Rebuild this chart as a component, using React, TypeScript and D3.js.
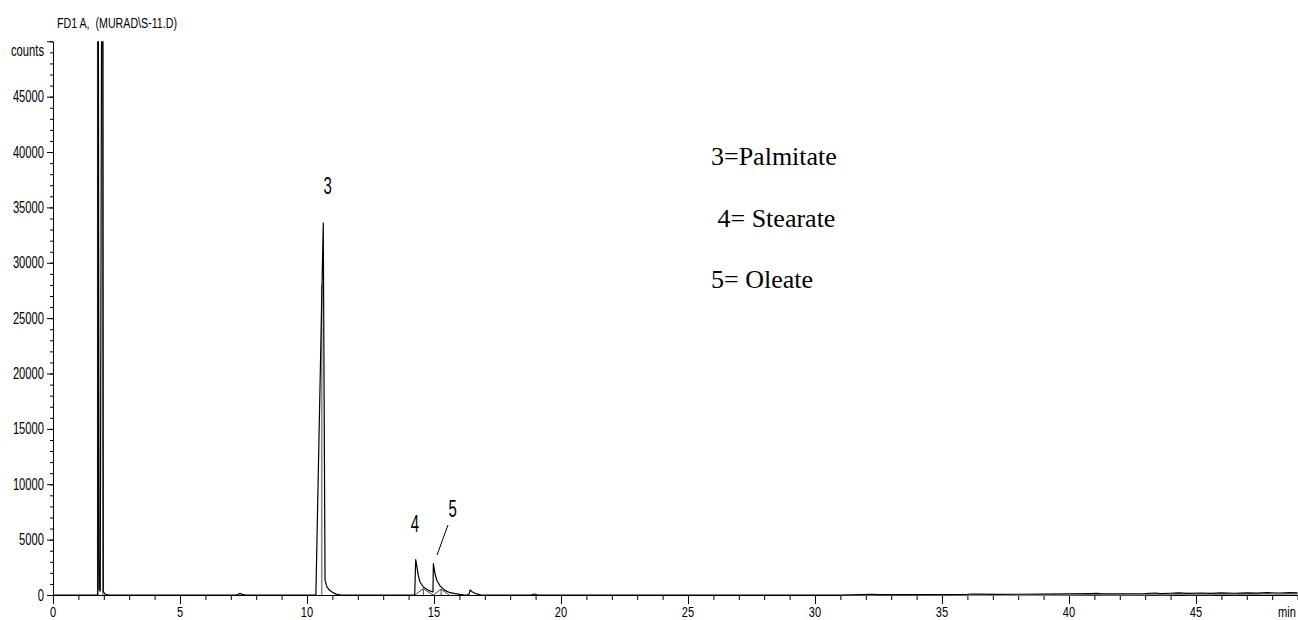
import { useEffect, useRef } from "react";
import * as d3 from "d3";

type Pt = [number, number];

const W = 1298;
const H = 620;

// axis labels
const xTickLabels = [0, 5, 10, 15, 20, 25, 30, 35, 40, 45];
const yTickLabels = [0, 5000, 10000, 15000, 20000, 25000, 30000, 35000, 40000, 45000];

// FID trace, [retention time (min), counts]
const solventPeak: Pt[] = [
  [0, 0], [1.76, 0], [1.77, 90000], [1.81, 3600], [1.82, 500], [1.86, 350],
  [1.95, 90000], [1.98, 300], [2.05, 80], [2.2, 0],
];
const earlyBlip: Pt[] = [[7.2, 0], [7.3, 60], [7.36, 150], [7.45, 60], [7.6, 0]];
const palmitatePeak: Pt[] = [
  [10.3, 0], [10.35, 40], [10.64, 33600], [10.71, 1350], [10.78, 750],
  [10.88, 450], [10.97, 300], [11.14, 80], [11.35, 0],
];
const stearatePeak: Pt[] = [
  [14.2, 0], [14.24, 40], [14.28, 3200], [14.32, 2680], [14.38, 1780],
  [14.45, 1170], [14.58, 720], [14.78, 420], [14.96, 270],
];
const oleatePeak: Pt[] = [
  [14.975, 2830], [15.04, 1920], [15.11, 1330], [15.24, 810], [15.43, 420],
  [15.63, 210], [15.83, 120], [16.02, 60], [16.2, 0],
];
const minorPeaks: Pt[] = [
  [16.3, 0], [16.38, 80], [16.42, 450], [16.5, 300], [16.65, 120], [16.85, 0],
  [18.8, 0], [18.95, 90], [19.1, 0],
];
const lateBaseline: Pt[] = [
  [31, 0], [31.8, 30], [32.2, 50], [32.5, 30], [34, 30], [36, 50], [36.2, 90],
  [36.6, 80], [37, 60], [39, 80], [40, 100], [40.8, 130], [41.1, 150],
  [41.3, 110], [43, 130], [43.4, 180], [43.6, 130], [44, 160], [44.3, 190],
  [44.7, 150], [45.2, 180], [45.6, 150], [46, 190], [46.5, 160], [47, 200],
  [47.4, 170], [47.8, 210], [48.3, 180], [48.7, 210], [49, 200],
];

// integration marks
const dropMarkers: Pt[] = [[1.76, 50000], [1.96, 50000], [10.58, 28000]];
const skimTents: Pt[][] = [
  [[14.24, 0], [14.58, 560], [14.97, 0]],
  [[14.97, 0], [15.28, 520], [15.6, 0]],
];
const skimTicks: Pt[] = [[14.58, 560], [15.28, 520]];

// annotations (data coordinates)
const peakLabels = [
  { label: "3", t: 10.81, c: 36200 },
  { label: "4", t: 14.25, c: 5690 },
  { label: "5", t: 15.73, c: 7040 },
];
const leader: Pt[] = [[15.55, 6320], [15.12, 3610]];
const legendItems = ["3=Palmitate", " 4= Stearate", "5= Oleate"];

const SANS = "'Liberation Sans', Arial, sans-serif";
const SERIF = "'Liberation Serif', 'Times New Roman', serif";

export default function App() {
  const svgRef = useRef<SVGSVGElement>(null);

  useEffect(() => {
    if (!svgRef.current) return;
    const svg = d3.select(svgRef.current);
    svg.selectAll("*").remove();

    const x = d3.scaleLinear().domain([0, 49]).range([53, 53 + 49 * 25.4]);
    const y = d3.scaleLinear().domain([0, 50000]).range([595, 41.3]);

    svg.append("rect").attr("width", W).attr("height", H).attr("fill", "#fff");

    svg
      .append("defs")
      .append("clipPath")
      .attr("id", "plot-clip")
      .append("rect")
      .attr("x", 53)
      .attr("y", y(50000))
      .attr("width", W - 53)
      .attr("height", y(0) - y(50000) + 1);

    // Header
    svg
      .append("text")
      .attr("x", 57)
      .attr("y", 28)
      .attr("textLength", 120)
      .attr("lengthAdjust", "spacingAndGlyphs")
      .style("font-family", SANS)
      .style("font-size", "14px")
      .style("white-space", "pre")
      .text("FD1 A,  (MURAD\\S-11.D)");

    // Axes
    const xAxisG = svg.append("g").attr("transform", `translate(0,${y(0)})`);
    xAxisG
      .append("g")
      .call(d3.axisBottom(x).tickValues(d3.range(0, 50)).tickSize(5).tickSizeOuter(0).tickFormat(() => ""));
    xAxisG
      .append("g")
      .call(d3.axisBottom(x).tickValues(xTickLabels).tickSize(9).tickSizeOuter(0).tickFormat(() => ""));
    xAxisG.selectAll("path,line").attr("stroke", "#000");

    const yAxisG = svg.append("g").attr("transform", `translate(53,0)`);
    yAxisG
      .append("g")
      .call(d3.axisLeft(y).tickValues(d3.range(0, 50001, 1000)).tickSize(3).tickSizeOuter(0).tickFormat(() => ""));
    yAxisG
      .append("g")
      .call(d3.axisLeft(y).tickValues(d3.range(0, 50001, 5000)).tickSize(6).tickSizeOuter(0).tickFormat(() => ""));
    yAxisG.selectAll("path,line").attr("stroke", "#000");

    const condensed = (
      g: d3.Selection<SVGGElement, unknown, null, undefined>,
      px: number,
      py: number,
      txt: string,
      anchor: string,
      size: number,
      sx = 0.7
    ) => {
      g.append("text")
        .attr("transform", `translate(${px},${py}) scale(${sx},1)`)
        .attr("text-anchor", anchor)
        .style("font-family", SANS)
        .style("font-size", `${size}px`)
        .text(txt);
    };

    const labels = svg.append("g");
    xTickLabels.forEach((v) => condensed(labels, x(v), 616.5, String(v), "middle", 15, 0.74));
    condensed(labels, 1296, 616.5, "min", "end", 15, 0.74);
    yTickLabels.forEach((v) => condensed(labels, 44, y(v) + 5.5, String(v), "end", 16));
    condensed(labels, 44, y(49000) + 4, "counts", "end", 16);

    // Trace
    const trace = [
      ...solventPeak,
      ...earlyBlip,
      ...palmitatePeak,
      ...stearatePeak,
      ...oleatePeak,
      ...minorPeaks,
      ...lateBaseline,
    ].sort((a, b) => a[0] - b[0]);

    const line = d3
      .line<Pt>()
      .x((d) => x(d[0]))
      .y((d) => y(d[1]));

    const plot = svg.append("g").attr("clip-path", "url(#plot-clip)");

    plot
      .selectAll("line.drop")
      .data(dropMarkers)
      .join("line")
      .attr("class", "drop")
      .attr("x1", (d) => x(d[0]))
      .attr("x2", (d) => x(d[0]))
      .attr("y1", y(0))
      .attr("y2", (d) => y(d[1]))
      .attr("stroke", "#8a8a8a")
      .attr("stroke-width", 1.6);

    plot
      .selectAll("path.tent")
      .data(skimTents)
      .join("path")
      .attr("class", "tent")
      .attr("d", line)
      .attr("fill", "none")
      .attr("stroke", "#333")
      .attr("stroke-width", 0.9);

    plot
      .selectAll("line.skim")
      .data(skimTicks)
      .join("line")
      .attr("class", "skim")
      .attr("x1", (d) => x(d[0]))
      .attr("x2", (d) => x(d[0]))
      .attr("y1", y(0))
      .attr("y2", (d) => y(d[1]))
      .attr("stroke", "#333")
      .attr("stroke-width", 0.9);

    plot
      .append("path")
      .datum(lateBaseline)
      .attr("d", line)
      .attr("fill", "none")
      .attr("stroke", "#888")
      .attr("stroke-width", 1.4)
      .attr("transform", "translate(0,1.2)");

    plot
      .append("path")
      .datum(trace)
      .attr("d", line)
      .attr("fill", "none")
      .attr("stroke", "#000")
      .attr("stroke-width", 1.2)
      .attr("stroke-linejoin", "round");

    // Peak annotations
    const ann = svg.append("g");
    peakLabels.forEach((p) => condensed(ann, x(p.t), y(p.c), p.label, "middle", 23, 0.65));
    ann
      .append("path")
      .datum(leader)
      .attr("d", line)
      .attr("stroke", "#000")
      .attr("stroke-width", 1);

    // Legend text
    const legendY = [165, 227, 288];
    legendItems.forEach((s, i) => {
      svg
        .append("text")
        .attr("x", 711)
        .attr("y", legendY[i])
        .style("font-family", SERIF)
        .style("font-size", "26px")
        .style("white-space", "pre")
        .text(s);
    });
  }, []);

  return (
    <svg
      ref={svgRef}
      width={W}
      height={H}
      style={{ position: "fixed", left: 0, top: 0, background: "#fff" }}
    />
  );
}
